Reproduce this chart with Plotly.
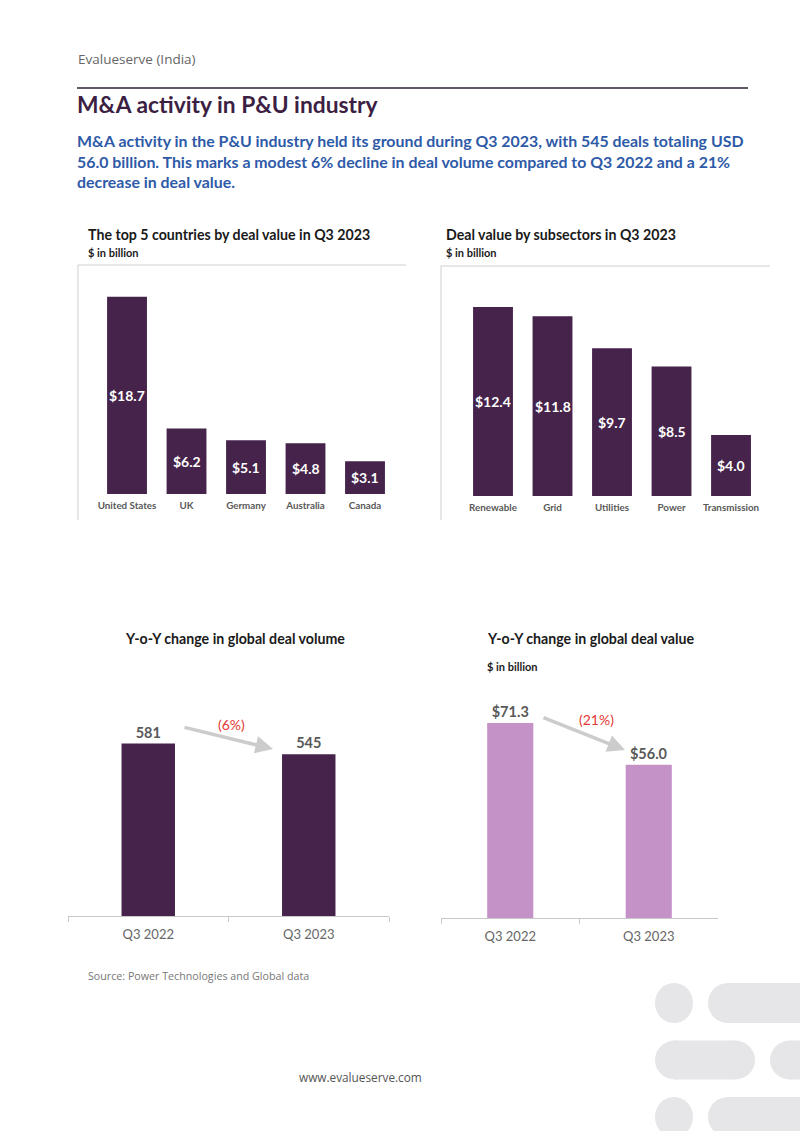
import plotly.graph_objects as go

# ---------------- data ----------------
countries = ["United States", "UK", "Germany", "Australia", "Canada"]
country_values = [18.7, 6.2, 5.1, 4.8, 3.1]

subsectors = ["Renewable", "Grid", "Utilities", "Power", "Transmission"]
subsector_values = [12.4, 11.8, 9.7, 8.5, 4.0]

quarters = ["Q3 2022", "Q3 2023"]
deal_volume = [581, 545]
deal_value = [71.3, 56.0]

volume_change = "(6%)"
value_change = "(21%)"

# ---------------- helpers ----------------
W, H = 800, 1131


def X(px):
    return px / W


def Y(py):
    return 1 - py / H


DARK = "#45234b"
LIGHT = "#c592c8"
GRAY_TXT = "#595959"
FONT = "Lato"

fig = go.Figure()

# chart 1: countries
fig.add_trace(go.Bar(
    x=countries, y=country_values, xaxis="x", yaxis="y",
    marker=dict(color=DARK, line=dict(width=0)), width=0.67,
    hoverinfo="skip", showlegend=False,
))
# chart 2: subsectors
fig.add_trace(go.Bar(
    x=subsectors, y=subsector_values, xaxis="x2", yaxis="y2",
    marker=dict(color=DARK, line=dict(width=0)), width=0.67,
    hoverinfo="skip", showlegend=False,
))
# chart 3: volume
fig.add_trace(go.Bar(
    x=quarters, y=deal_volume, xaxis="x3", yaxis="y3",
    marker=dict(color=DARK, line=dict(width=0)), width=0.333,
    text=[f"{v}" for v in deal_volume], textposition="outside",
    textfont=dict(family=FONT, size=14.5, color=GRAY_TXT, weight="bold"),
    cliponaxis=False, hoverinfo="skip", showlegend=False,
))
# chart 4: value
fig.add_trace(go.Bar(
    x=quarters, y=deal_value, xaxis="x4", yaxis="y4",
    marker=dict(color=LIGHT, line=dict(width=0)), width=0.333,
    text=[f"${v:.1f}" for v in deal_value], textposition="outside",
    textfont=dict(family=FONT, size=14.5, color=GRAY_TXT, weight="bold"),
    cliponaxis=False, hoverinfo="skip", showlegend=False,
))

small_cat = dict(showgrid=False, zeroline=False, showline=False, ticks="",
                 tickfont=dict(family=FONT, size=9.8, color=GRAY_TXT, weight="bold"),
                 ticklabelstandoff=4, fixedrange=True)
big_cat = dict(showgrid=False, zeroline=False, showline=True, linecolor="#c8c8c8",
               linewidth=1, ticks="outside", tickson="boundaries", ticklen=5,
               tickcolor="#c8c8c8", range=[-0.5, 1.5],
               tickfont=dict(family=FONT, size=13, color="#666666"),
               ticklabelstandoff=6, fixedrange=True)
hid = dict(visible=False, fixedrange=True)

fig.update_layout(
    width=W, height=H, margin=dict(l=0, r=0, t=0, b=0),
    paper_bgcolor="white", plot_bgcolor="rgba(0,0,0,0)",
    bargap=0.3,
    xaxis=dict(domain=[X(78), X(406)], range=[-0.824, 4.689], anchor="y", **small_cat),
    yaxis=dict(domain=[Y(494), Y(265)], range=[0, 21.7], anchor="x", **hid),
    xaxis2=dict(domain=[X(441), X(770)], range=[-0.874, 4.655], anchor="y2", **small_cat),
    yaxis2=dict(domain=[Y(496), Y(266)], range=[0, 15.09], anchor="x2", **hid),
    xaxis3=dict(domain=[X(68), X(389)], anchor="y3", **big_cat),
    yaxis3=dict(domain=[Y(916), Y(680)], range=[0, 795.4], anchor="x3", **hid),
    xaxis4=dict(domain=[X(441), X(718)], anchor="y4", **big_cat),
    yaxis4=dict(domain=[Y(918), Y(680)], range=[0, 87.0], anchor="x4", **hid),
)

shapes = []
# frames around top charts
for (lx, ty, rx, by) in [(78, 265, 406, 520), (441, 266, 770, 520)]:
    shapes.append(dict(type="line", xref="paper", yref="paper", x0=X(lx), x1=X(lx),
                       y0=Y(ty), y1=Y(by), line=dict(color="#cfcfcf", width=1)))
    shapes.append(dict(type="line", xref="paper", yref="paper", x0=X(lx), x1=X(rx),
                       y0=Y(ty), y1=Y(ty), line=dict(color="#cfcfcf", width=1)))
# header rule
shapes.append(dict(type="line", xref="paper", yref="paper", x0=X(77), x1=X(748),
                   y0=Y(88), y1=Y(88), line=dict(color="#2e1f33", width=1.3)))

# decorative pills bottom right
DECO = "#e6e6e9"


def circle(cx, cy, rx, ry):
    return dict(type="circle", xref="paper", yref="paper", x0=X(cx - rx), x1=X(cx + rx),
                y0=Y(cy + ry), y1=Y(cy - ry), fillcolor=DECO, line=dict(width=0), layer="below")


def rect(x0, x1, y0, y1):
    return dict(type="rect", xref="paper", yref="paper", x0=X(x0), x1=X(x1),
                y0=Y(y1), y1=Y(y0), fillcolor=DECO, line=dict(width=0), layer="below")


shapes += [circle(674, 1003, 19, 20), circle(728, 1003, 20, 20), rect(728, 820, 983, 1023)]
shapes += [circle(675, 1060, 20, 19.5), circle(735, 1060, 20, 19.5), rect(675, 735, 1040.5, 1079.5),
           circle(790, 1060, 20, 19.5), rect(790, 820, 1040.5, 1079.5)]
shapes += [circle(674, 1117, 19, 20), circle(728, 1117, 20, 20), rect(728, 820, 1097, 1137)]

annotations = []

# value labels inside the top-chart bars (centred at half height)
for xr, yr, cats, vals in [("x", "y", countries, country_values),
                           ("x2", "y2", subsectors, subsector_values)]:
    for c, v in zip(cats, vals):
        annotations.append(dict(xref=xr, yref=yr, x=c, y=v / 2, text=f"${v:.1f}",
                                showarrow=False, xanchor="center", yanchor="middle",
                                font=dict(family=FONT, size=14, color="white", weight="bold")))


def txt(x, y, s, size, color, family=FONT, weight="normal", xanchor="left", **kw):
    annotations.append(dict(xref="paper", yref="paper", x=X(x), y=Y(y), text=s,
                            showarrow=False, xanchor=xanchor, yanchor="middle",
                            font=dict(family=family, size=size, color=color, weight=weight),
                            **kw))


txt(76, 59, "Evalueserve (India)", 13.5, "#666666", family="Open Sans")
txt(75, 104, "M&A activity in P&U industry", 22.8, "#3c1f43", weight="bold")
txt(75, 161,
    "M&A activity in the P&U industry held its ground during Q3 2023, with 545 deals totaling USD<br>"
    "56.0 billion. This marks a modest 6% decline in deal volume compared to Q3 2022 and a 21%<br>"
    "decrease in deal value.",
    15.9, "#2e5aa8", weight="bold", align="left")

txt(86, 235, "The top 5 countries by deal value in Q3 2023", 14.2, "#1a1a1a", weight="bold")
txt(86, 252, "$ in billion", 11, "#1a1a1a", weight="bold")
txt(444, 235, "Deal value by subsectors in Q3 2023", 14.2, "#1a1a1a", weight="bold")
txt(444, 252, "$ in billion", 11, "#1a1a1a", weight="bold")

txt(235, 638, "Y-o-Y change in global deal volume", 14.2, "#1a1a1a", weight="bold", xanchor="center")
txt(591, 638, "Y-o-Y change in global deal value", 14.2, "#1a1a1a", weight="bold", xanchor="center")
txt(485, 666, "$ in billion", 11, "#1a1a1a", weight="bold")

txt(232, 724, volume_change, 14, "#e53935", xanchor="center")
txt(596, 719, value_change, 14, "#e53935", xanchor="center")

txt(86, 976, "Source: Power Technologies and Global data", 10.7, "#777777", family="Open Sans")
txt(360, 1077, "www.evalueserve.com", 11.8, "#555555", family="Open Sans", xanchor="center")

# trend arrows
for (hx, hy, tx, ty) in [(273, 749, 183, 727), (625, 750, 542, 717)]:
    annotations.append(dict(xref="paper", yref="paper", x=X(hx), y=Y(hy), ax=tx - hx, ay=ty - hy,
                            axref="pixel", ayref="pixel", text="", showarrow=True,
                            arrowhead=2, arrowsize=1, arrowwidth=3.5, arrowcolor="#cccccc",
                            standoff=0, startstandoff=0))

fig.update_layout(shapes=shapes, annotations=annotations)

fig.write_html("out.html")
